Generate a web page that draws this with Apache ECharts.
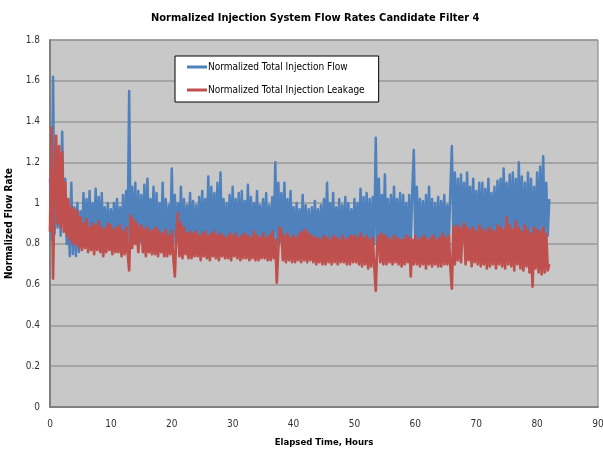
<!DOCTYPE html>
<html><head><meta charset="utf-8">
<script src="https://cdn.jsdelivr.net/npm/echarts@6/dist/echarts.min.js"></script>
<style>html,body{margin:0;padding:0;background:#fff}#c{width:603px;height:451px}</style>
</head><body><div id="c"></div>
<script>
const TITLE = "Normalized Injection System Flow Rates Candidate Filter 4";
const SERIES_NAMES = ["Normalized Total Injection Flow", "Normalized Total Injection Leakage"];
const X_NAME = "Elapsed Time, Hours";
const Y_NAME = "Normalized Flow Rate";
const STEP_HOURS = 0.25; // sampling interval of the readings below
// Normalized Total Injection Flow, 4 readings per hour
const flow = [
1.12,0.82,1.62,0.85, 1.05,0.88,1.20,0.84, 1.35,0.90,1.12,0.80, 0.95,0.74,1.10,0.75,
0.98,0.74,1.00,0.76, 0.96,0.78,1.05,0.80, 1.02,0.80,1.06,0.81, 1.00,0.80,1.07,0.81,
1.03,0.80,1.05,0.81, 0.98,0.80,1.00,0.81, 0.97,0.80,1.00,0.81, 1.02,0.80,0.98,0.81,
1.04,0.80,1.06,0.81, 1.55,0.80,1.08,0.81, 1.10,0.80,1.06,0.81, 1.04,0.80,1.09,0.81,
1.12,0.80,1.02,0.81, 1.08,0.80,1.05,0.81, 1.00,0.80,1.10,0.81, 1.02,0.80,0.99,0.81,
1.17,0.80,1.04,0.81, 1.00,0.80,1.08,0.81, 1.02,0.80,0.99,0.81, 1.05,0.80,1.01,0.81,
0.99,0.80,1.03,0.81, 1.06,0.80,1.02,0.81, 1.13,0.80,1.08,0.81, 1.05,0.80,1.10,0.81,
1.15,0.80,1.02,0.81, 1.00,0.80,1.04,0.81, 1.08,0.80,1.02,0.81, 1.05,0.80,1.06,0.81,
1.01,0.80,1.09,0.81, 1.03,0.80,1.00,0.81, 1.06,0.80,0.99,0.81, 1.02,0.80,1.05,0.81,
0.99,0.80,1.03,0.81, 1.20,0.80,1.10,0.81, 1.05,0.80,1.10,0.81, 1.02,0.80,1.06,0.81,
0.98,0.80,1.00,0.79, 0.97,0.80,1.04,0.79, 0.99,0.80,0.97,0.79, 0.98,0.80,1.01,0.79,
0.97,0.80,0.99,0.79, 1.02,0.80,1.10,0.79, 1.00,0.80,1.05,0.79, 0.98,0.80,1.02,0.79,
0.99,0.80,1.03,0.79, 1.00,0.80,0.97,0.79, 1.02,0.80,1.00,0.79, 1.07,0.80,1.03,0.79,
1.05,0.80,1.02,0.79, 1.03,0.80,1.32,0.79, 1.12,0.80,1.04,0.79, 1.14,0.80,1.02,0.79,
1.04,0.80,1.08,0.79, 1.02,0.80,1.05,0.79, 1.04,0.80,1.00,0.79, 1.04,0.80,1.06,1.26,
0.80,1.08,0.79,1.02, 0.80,1.01,0.79,1.04, 0.80,1.08,0.79,1.02, 0.80,1.00,0.79,1.03,
0.80,1.01,0.79,1.04, 0.80,0.99,0.81,1.06, 1.28,0.83,1.15,0.84, 1.12,0.83,1.14,0.84,
1.10,0.83,1.15,0.84, 1.08,0.83,1.12,0.84, 1.06,0.83,1.10,0.84, 1.10,0.83,1.07,0.84,
1.12,0.83,1.05,0.84, 1.08,0.83,1.11,0.84, 1.12,0.83,1.17,0.84, 1.10,0.83,1.14,0.84,
1.15,0.83,1.12,0.84, 1.20,0.83,1.13,0.84, 1.10,0.83,1.15,0.84, 1.12,0.83,1.08,0.84,
1.15,0.83,1.18,0.84, 1.23,0.83,1.10,0.84, 1.02
];
// Normalized Total Injection Leakage, 4 readings per hour
const leakage = [
0.86,1.37,0.63,1.10, 1.33,0.90,1.28,0.88, 1.25,0.86,1.10,0.84, 1.02,0.82,0.98,0.80,
0.97,0.80,0.96,0.78, 0.93,0.77,0.90,0.78, 0.92,0.76,0.88,0.77, 0.90,0.75,0.89,0.77,
0.91,0.76,0.88,0.74, 0.87,0.76,0.90,0.77, 0.89,0.75,0.87,0.76, 0.88,0.76,0.89,0.74,
0.86,0.75,0.88,0.76, 0.67,0.94,0.78,0.92, 0.80,0.90,0.76,0.88, 0.89,0.76,0.87,0.74,
0.88,0.76,0.86,0.75, 0.87,0.75,0.88,0.74, 0.86,0.76,0.85,0.74, 0.87,0.74,0.84,0.75,
0.86,0.74,0.64,0.85, 0.95,0.74,0.90,0.73, 0.88,0.75,0.85,0.73, 0.86,0.73,0.85,0.74,
0.86,0.74,0.84,0.72, 0.85,0.74,0.86,0.73, 0.84,0.72,0.85,0.74, 0.86,0.73,0.84,0.72,
0.85,0.74,0.84,0.73, 0.83,0.73,0.85,0.72, 0.84,0.74,0.85,0.73, 0.83,0.72,0.84,0.73,
0.85,0.73,0.84,0.72, 0.83,0.73,0.86,0.72, 0.84,0.72,0.83,0.73, 0.85,0.73,0.83,0.72,
0.84,0.72,0.86,0.73, 0.82,0.61,0.78,0.88, 0.86,0.72,0.84,0.71, 0.85,0.72,0.83,0.71,
0.84,0.71,0.83,0.72, 0.85,0.71,0.86,0.72, 0.87,0.71,0.85,0.72, 0.84,0.71,0.83,0.70,
0.83,0.71,0.82,0.70, 0.84,0.70,0.83,0.71, 0.82,0.70,0.84,0.71, 0.83,0.70,0.82,0.71,
0.84,0.71,0.82,0.70, 0.83,0.70,0.84,0.71, 0.84,0.71,0.83,0.70, 0.85,0.69,0.83,0.70,
0.84,0.68,0.82,0.69, 0.83,0.70,0.57,0.80, 0.84,0.71,0.85,0.70, 0.84,0.70,0.83,0.71,
0.82,0.70,0.84,0.71, 0.83,0.70,0.82,0.69, 0.82,0.70,0.84,0.71, 0.83,0.64,0.82,0.70,
0.84,0.70,0.82,0.69, 0.83,0.70,0.84,0.68, 0.82,0.70,0.83,0.69, 0.84,0.70,0.82,0.69,
0.83,0.69,0.85,0.70, 0.83,0.70,0.84,0.69, 0.58,0.88,0.70,0.89, 0.72,0.88,0.71,0.87,
0.90,0.70,0.88,0.72, 0.87,0.69,0.88,0.71, 0.86,0.70,0.89,0.69, 0.87,0.70,0.86,0.68,
0.88,0.69,0.87,0.70, 0.86,0.68,0.89,0.70, 0.88,0.69,0.87,0.68, 0.93,0.70,0.89,0.69,
0.87,0.67,0.91,0.70, 0.88,0.68,0.86,0.67, 0.89,0.69,0.87,0.66, 0.85,0.59,0.88,0.68,
0.87,0.66,0.86,0.65, 0.88,0.66,0.85,0.67, 0.70
];
const X_MIN = 0, X_MAX = 90, X_INTERVAL = 10;
const Y_MIN = 0, Y_MAX = 1.8, Y_INTERVAL = 0.2;

const FONT = '"Liberation Sans Narrow","DejaVu Sans Condensed",Roboto,sans-serif';
const pairs = arr => arr.map((v, i) => [i * STEP_HOURS, v]);

const chart = echarts.init(document.getElementById('c'), null, {renderer: 'canvas'});
chart.setOption({
  animation: false,
  backgroundColor: '#ffffff',
  textStyle: {fontFamily: FONT},
  title: {
    text: TITLE, left: 146, top: 8,
    textStyle: {fontFamily: FONT, fontSize: 11, fontWeight: 'bold', color: '#000'}
  },
  legend: {
    orient: 'vertical', left: 175, top: 56,
    padding: [6, 14, 7, 12],
    itemGap: 13, itemWidth: 20, itemHeight: 3,
    backgroundColor: '#ffffff', borderColor: '#000000', borderWidth: 1,
    icon: 'rect',
    textStyle: {fontFamily: FONT, fontSize: 10, color: '#000', padding: [0, 0, 0, -4]},
    data: SERIES_NAMES
  },
  grid: {
    left: 50, right: 5, top: 40, bottom: 44, containLabel: false,
    outerBoundsMode: 'none',
    show: true, backgroundColor: '#c8c8c8', borderColor: '#7f7f7f', borderWidth: 1
  },
  xAxis: {
    type: 'value', min: X_MIN, max: X_MAX, interval: X_INTERVAL,
    name: X_NAME, nameLocation: 'middle', nameGap: 31,
    nameTextStyle: {fontFamily: FONT, fontSize: 9.5, fontWeight: 'bold', color: '#000'},
    axisLine: {show: true, lineStyle: {color: '#808080', width: 2}},
    axisTick: {show: false},
    axisLabel: {fontFamily: FONT, fontSize: 10, color: '#333', margin: 12},
    splitLine: {show: false}
  },
  yAxis: {
    type: 'value', min: Y_MIN, max: Y_MAX, interval: Y_INTERVAL,
    name: Y_NAME, nameLocation: 'middle', nameGap: 34, nameRotate: 90,
    nameTextStyle: {fontFamily: FONT, fontSize: 10, fontWeight: 'bold', color: '#000'},
    axisLine: {show: true, lineStyle: {color: '#808080', width: 2}},
    axisTick: {show: false},
    axisLabel: {fontFamily: FONT, fontSize: 10, color: '#333', margin: 10},
    splitLine: {show: true, lineStyle: {color: '#999999', width: 1.5}}
  },
  series: [
    {
      name: SERIES_NAMES[0], type: 'line', data: pairs(flow),
      showSymbol: false, symbol: 'none', sampling: null,
      itemStyle: {color: '#4f81bd'},
      lineStyle: {color: '#4f81bd', width: 2.5, join: 'round'}
    },
    {
      name: SERIES_NAMES[1], type: 'line', data: pairs(leakage),
      showSymbol: false, symbol: 'none', sampling: null,
      itemStyle: {color: '#c0504d'},
      lineStyle: {color: '#c0504d', width: 2.7, join: 'round'}
    }
  ]
});
</script>
</body></html>
